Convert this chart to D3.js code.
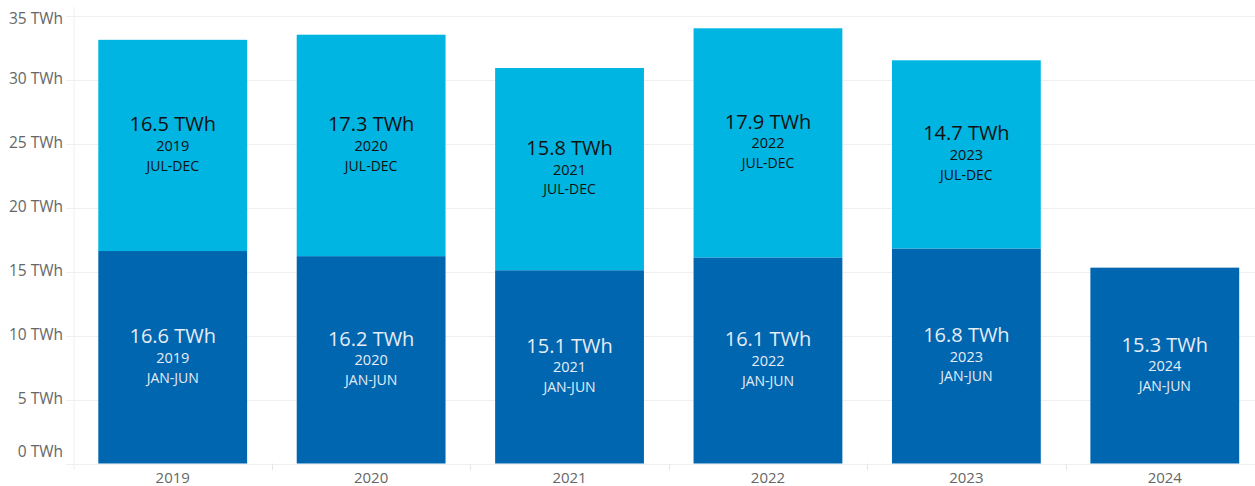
<!DOCTYPE html>
<html>
<head>
<meta charset="utf-8">
<script src="https://cdn.jsdelivr.net/npm/d3@7"></script>
<style>
  html, body { margin: 0; padding: 0; background: #ffffff; }
  svg { display: block; font-family: "Open Sans", "Noto Sans", sans-serif; }
</style>
</head>
<body>
<svg id="chart" width="1255" height="486"></svg>
<script>
// Half-year generation totals (TWh)
const years = ["2019", "2020", "2021", "2022", "2023", "2024"];
const janJun = [16.6, 16.2, 15.1, 16.1, 16.8, 15.3];
const julDec = [16.5, 17.3, 15.8, 17.9, 14.7, null];
const periodNames = ["JAN-JUN", "JUL-DEC"];
const yTicks = [0, 5, 10, 15, 20, 25, 30, 35];

const colors = { first: "#0066b0", second: "#00b5e2" };

const svg = d3.select("#chart");
const plotLeft = 73.5, plotRight = 1264, plotTop = 15.5, plotBottom = 463.5;

const x = d3.scaleBand().domain(years).range([plotLeft, plotRight]).paddingInner(0.25).paddingOuter(0.125);
const y = d3.scaleLinear().domain([0, 35]).range([plotBottom, plotTop]);

// Gridlines
svg.append("g").selectAll("line").data(yTicks).join("line")
  .attr("x1", 66).attr("x2", 1255)
  .attr("y1", d => Math.round(y(d)) + 0.5).attr("y2", d => Math.round(y(d)) + 0.5)
  .attr("stroke", "#efefef").attr("stroke-width", 1);

// Left axis rule
svg.append("line")
  .attr("x1", plotLeft + 0.5).attr("x2", plotLeft + 0.5).attr("y1", 7).attr("y2", 470)
  .attr("stroke", "#eeeeee");

// Column dividers below baseline
svg.append("g").selectAll("line").data(years.slice(1)).join("line")
  .attr("x1", d => Math.round(x(d) - x.step() * 0.125) + 0.5)
  .attr("x2", d => Math.round(x(d) - x.step() * 0.125) + 0.5)
  .attr("y1", plotBottom).attr("y2", 470)
  .attr("stroke", "#e6e6e6");

// Y-axis labels (end labels nudged inside the plot area)
const yAxis = d3.axisLeft(y).tickValues(yTicks).tickSize(0).tickPadding(0)
  .tickFormat(d => d + " TWh");
svg.append("g").attr("transform", `translate(63,0)`).call(yAxis)
  .call(g => g.select(".domain").remove())
  .call(g => g.selectAll(".tick").attr("transform", d => `translate(0,${Math.max(19, Math.min(452, y(d)))})`))
  .call(g => g.selectAll("text")
    .attr("fill", "#666666").attr("font-size", 15.5)
    .attr("font-family", "'Open Sans', sans-serif"));

// X-axis labels
const xAxis = d3.axisBottom(x).tickSize(0).tickPadding(0);
svg.append("g").attr("transform", `translate(0,${plotBottom + 19})`).call(xAxis)
  .call(g => g.select(".domain").remove())
  .call(g => g.selectAll("text")
    .attr("fill", "#666666").attr("font-size", 15)
    .attr("y", 0).attr("dy", 0)
    .attr("font-family", "'Open Sans', sans-serif"));

// Stacked segments
const segments = [];
years.forEach((yr, i) => {
  segments.push({ year: yr, y0: 0, y1: janJun[i], v: janJun[i], period: 0 });
  if (julDec[i] != null) {
    segments.push({ year: yr, y0: janJun[i], y1: janJun[i] + julDec[i], v: julDec[i], period: 1 });
  }
});

svg.append("g").selectAll("rect").data(segments).join("rect")
  .attr("x", d => x(d.year))
  .attr("width", x.bandwidth())
  .attr("y", d => y(d.y1))
  .attr("height", d => y(d.y0) - y(d.y1))
  .attr("fill", d => d.period === 0 ? colors.first : colors.second);

// Segment labels: value, year, period
const lab = svg.append("g").selectAll("g").data(segments).join("g")
  .attr("transform", d => `translate(${x(d.year) + x.bandwidth() / 2},${(y(d.y0) + y(d.y1)) / 2})`)
  .attr("text-anchor", "middle")
  .attr("fill", d => d.period === 0 ? "#e6ecf4" : "#111111");

lab.append("text").attr("y", -21).attr("dy", "0.35em")
  .attr("font-size", 20)
  .text(d => d.v.toFixed(1) + " TWh");
lab.append("text").attr("y", 0.5).attr("dy", "0.35em")
  .attr("font-size", 14.5)
  .text(d => d.year);
lab.append("text").attr("y", 20.5).attr("dy", "0.35em")
  .attr("font-size", 14)
  .text(d => periodNames[d.period]);
</script>
</body>
</html>
